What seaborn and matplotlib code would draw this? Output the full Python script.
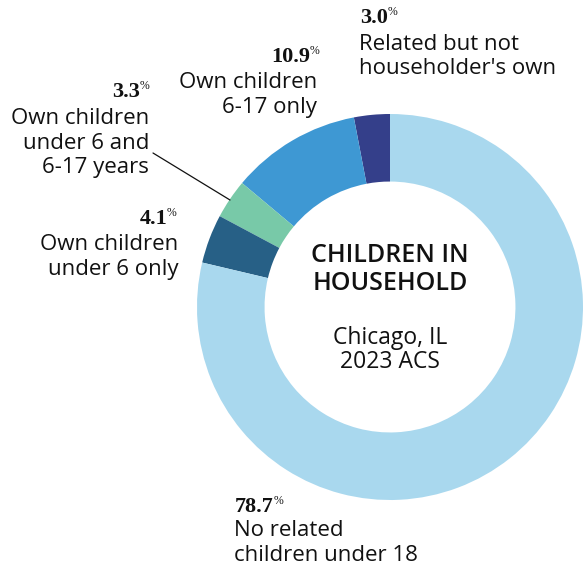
import matplotlib
matplotlib.use("Agg")
import matplotlib.pyplot as plt
import seaborn as sns

sns.set_theme(style="white")
plt.rcParams["font.family"] = ["Open Sans", "DejaVu Sans"]

# Shares of households by presence of related children (percent)
categories = [
    "Related but not\nhouseholder's own",
    "Own children\n6-17 only",
    "Own children\nunder 6 and\n6-17 years",
    "Own children\nunder 6 only",
    "No related\nchildren under 18",
]
shares = [3.0, 10.9, 3.3, 4.1, 78.7]
colors = ["#343f8a", "#3e98d3", "#78c9a8", "#276086", "#a9d8ee"]

W, H = 583, 569
fig = plt.figure(figsize=(W / 100, H / 100), dpi=100)
fig.patch.set_facecolor("white")

cx, cy, r = 390, 307, 193
ax = fig.add_axes([(cx - r) / W, (H - cy - r) / H, 2 * r / W, 2 * r / H])
ax.pie(shares, colors=colors, startangle=90, counterclock=True,
       wedgeprops=dict(width=0.35, linewidth=0), radius=1.0)
ax.set_xlim(-1, 1)
ax.set_ylim(-1, 1)
ax.set_aspect("equal")
ax.axis("off")

def fx(px):
    return px / W

def fy(py):
    return 1 - py / H

label_font = 16
num_font = 16
ink = "#111111"
line_gap = 24.5

def put_number(idx, x, y, ha):
    """Bold percent value with a small raised percent sign."""
    num = fig.text(fx(x), fy(y), f"{shares[idx]:.1f}",
                   ha=ha, va="center", fontsize=num_font, fontweight="bold",
                   family="Liberation Serif", color=ink)
    ax.annotate("%", xy=(1, 0.8), xycoords=num, ha="left", va="center",
                fontsize=8.5, family="Liberation Serif", color=ink,
                annotation_clip=False)

def put_lines(text, x, y0, ha, size=label_font, gap=line_gap, **kw):
    for i, line in enumerate(text.split("\n")):
        fig.text(fx(x), fy(y0 + i * gap), line, ha=ha, va="center",
                 fontsize=size, color=ink, **kw)

# Text blocks around the ring
put_number(0, 360, 18, "left")
put_lines(categories[0], 359, 44, "left")

put_number(1, 310, 57, "right")
put_lines(categories[1], 317, 83, "right")

put_number(2, 140, 92, "right")
put_lines(categories[2], 149, 118, "right", gap=25)

put_number(3, 167, 219, "right")
put_lines(categories[3], 178, 245, "right")

put_number(4, 235, 507, "left")
put_lines(categories[4], 234, 531, "left")

# Leader line for the narrow teal wedge
fig.add_artist(plt.Line2D([fx(153), fx(230)], [fy(153), fy(200)],
                          color=ink, linewidth=0.9))

# Centre title
put_lines("CHILDREN IN\nHOUSEHOLD", cx, 256, "center", size=18, gap=28,
          fontweight="semibold")
put_lines("Chicago, IL\n2023 ACS", cx, 338, "center", size=16.5, gap=24)

fig.savefig("out.png", dpi=100, facecolor="white")
